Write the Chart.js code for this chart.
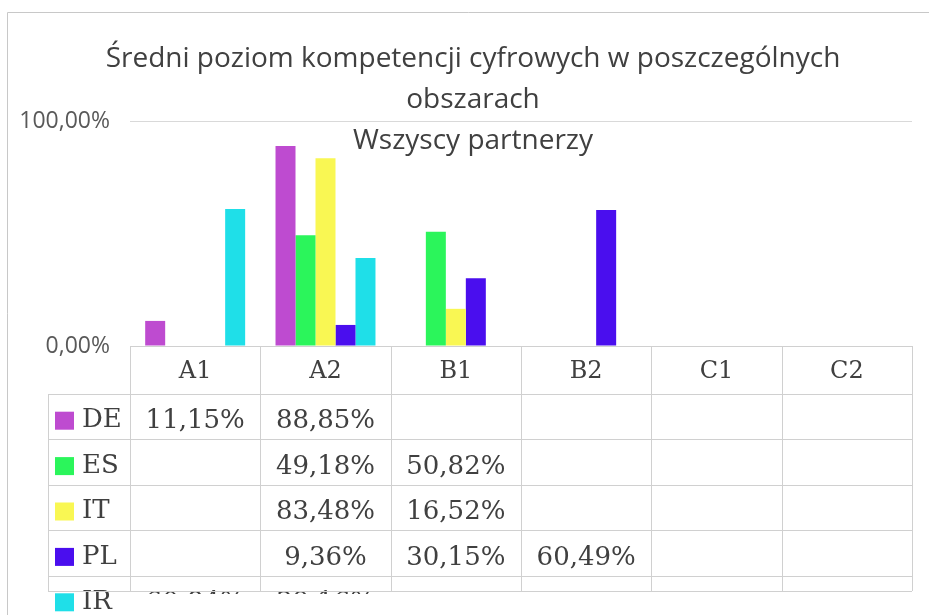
<!DOCTYPE html>
<html>
<head>
<meta charset="utf-8">
<script src="https://cdn.jsdelivr.net/npm/chart.js@4"></script>
<style>
html,body{margin:0;padding:0;background:#fff;}
#wrap{width:929px;height:615px;position:relative;}
</style>
</head>
<body>
<div id="wrap"><canvas id="c" width="929" height="615"></canvas></div>
<script>
const categories = ['A1', 'A2', 'B1', 'B2', 'C1', 'C2'];
const seriesNames = ['DE', 'ES', 'IT', 'PL', 'IR'];
const DE = [11.15, 88.85, null, null, null, null];
const ES = [null, 49.18, 50.82, null, null, null];
const IT = [null, 83.48, 16.52, null, null, null];
const PL = [null, 9.36, 30.15, 60.49, null, null];
const IR = [60.84, 39.16, null, null, null, null];
const yTickValues = [0, 100];
const titleLines = ['Średni poziom kompetencji cyfrowych w poszczególnych', 'obszarach', 'Wszyscy partnerzy'];

const seriesValues = [DE, ES, IT, PL, IR];
const colors = ['#BE4BD0', '#2BF55B', '#F9F753', '#4A0EEE', '#1FDFE8'];
const fmt = v => v.toFixed(2).replace('.', ',') + '%';

const frame = {
  id: 'frame',
  beforeDraw(chart) {
    const ctx = chart.ctx;
    ctx.save();
    ctx.fillStyle = '#fff';
    ctx.fillRect(0, 0, chart.width, chart.height);
    ctx.strokeStyle = '#c8c8c8';
    ctx.lineWidth = 1;
    ctx.beginPath();
    ctx.moveTo(7.5, chart.height);
    ctx.lineTo(7.5, 12.5);
    ctx.lineTo(chart.width, 12.5);
    ctx.stroke();
    ctx.restore();
  }
};

const titlePlugin = {
  id: 'titleLines',
  afterDraw(chart) {
    const ctx = chart.ctx;
    ctx.save();
    ctx.fillStyle = '#404040';
    ctx.font = '28px "Open Sans"';
    ctx.textAlign = 'center';
    ctx.textBaseline = 'alphabetic';
    const baselines = [67, 108, 149];
    titleLines.forEach((t, i) => ctx.fillText(t, 473, baselines[i]));
    ctx.restore();
  }
};

const tablePlugin = {
  id: 'dataTable',
  afterDraw(chart) {
    const ctx = chart.ctx;
    const xs = chart.scales.x;
    const area = chart.chartArea;
    const half = (xs.getPixelForValue(1) - xs.getPixelForValue(0)) / 2;
    const top = area.bottom;
    const headerH = 48;
    const rowH = 45.4;
    const legLeft = 48;
    const tableBottom = 591;
    const right = xs.getPixelForValue(categories.length - 1) + half;
    ctx.save();
    ctx.fillStyle = '#404040';
    ctx.textAlign = 'center';
    ctx.textBaseline = 'middle';
    ctx.font = '24px "DejaVu Serif"';
    categories.forEach((c, i) => ctx.fillText(c, xs.getPixelForValue(i), top + headerH / 2 + 2));
    seriesNames.forEach((name, r) => {
      const rTop = top + headerH + r * rowH;
      const cy = rTop + rowH / 2 + 4;
      ctx.fillStyle = colors[r];
      ctx.fillRect(55, cy - 9, 19, 18);
      ctx.fillStyle = '#404040';
      ctx.textAlign = 'left';
      ctx.font = '26px "DejaVu Serif"';
      ctx.fillText(name, 82, cy);
      ctx.save();
      ctx.beginPath();
      ctx.rect(0, rTop, chart.width, Math.max(0, Math.min(rowH, tableBottom + 3 - rTop)));
      ctx.clip();
      ctx.textAlign = 'center';
      seriesValues[r].forEach((v, i) => {
        if (v !== null) ctx.fillText(fmt(v), xs.getPixelForValue(i), cy + 1);
      });
      ctx.restore();
    });
    ctx.strokeStyle = '#d0d0d0';
    ctx.lineWidth = 1;
    ctx.beginPath();
    const lx = xs.getPixelForValue(0) - half;
    ctx.moveTo(Math.round(lx) + 0.5, top);
    ctx.lineTo(Math.round(lx) + 0.5, tableBottom);
    for (let i = 0; i < categories.length; i++) {
      const bx = Math.round(xs.getPixelForValue(i) + half) + 0.5;
      ctx.moveTo(bx, top);
      ctx.lineTo(bx, tableBottom);
    }
    ctx.moveTo(legLeft + 0.5, top + headerH);
    ctx.lineTo(legLeft + 0.5, tableBottom);
    ctx.moveTo(lx, Math.round(top) + 0.5);
    ctx.lineTo(right, Math.round(top) + 0.5);
    for (let r = 0; r < seriesNames.length; r++) {
      const y = Math.round(top + headerH + r * rowH) + 0.5;
      ctx.moveTo(legLeft, y);
      ctx.lineTo(right, y);
    }
    ctx.moveTo(legLeft, tableBottom + 0.5);
    ctx.lineTo(right, tableBottom + 0.5);
    ctx.stroke();
    ctx.restore();
  }
};

new Chart(document.getElementById('c'), {
  type: 'bar',
  data: {
    labels: categories,
    datasets: seriesNames.map((n, i) => ({
      label: n,
      data: seriesValues[i],
      backgroundColor: colors[i],
      borderWidth: 0,
      categoryPercentage: 0.767,
      barPercentage: 1.0
    }))
  },
  options: {
    responsive: false,
    animation: false,
    devicePixelRatio: 1,
    layout: { padding: { top: 121, right: 17, bottom: 269, left: 0 } },
    plugins: { legend: { display: false }, title: { display: false }, tooltip: { enabled: false } },
    scales: {
      x: { display: false },
      y: {
        min: 0, max: 100,
        afterFit(s) { s.width = 130; },
        afterBuildTicks(s) { s.ticks = yTickValues.map(v => ({ value: v })); },
        grid: { color: '#d9d9d9', drawTicks: false, lineWidth: 1 },
        border: { display: false },
        ticks: {
          padding: 20,
          color: '#595959',
          font: { family: 'Open Sans', size: 23 },
          callback: v => fmt(v)
        }
      }
    }
  },
  plugins: [frame, titlePlugin, tablePlugin]
});
</script>
</body>
</html>
